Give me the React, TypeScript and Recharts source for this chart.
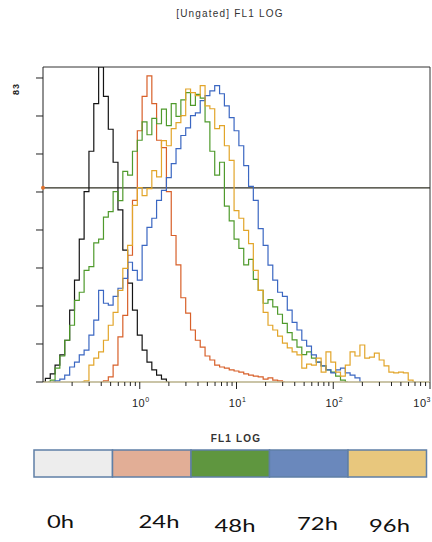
import React from 'react';
import { LineChart, Line, XAxis, YAxis, ReferenceLine, ReferenceDot } from 'recharts';

const _ = null;

// log-spaced FL1 channels (20 per decade)
const FL1_BINS = [
  0.1, 0.112, 0.126, 0.141, 0.158, 0.178, 0.2, 0.224, 0.251, 0.282, 0.316, 0.355, 0.398, 0.447, 0.501, 0.562, 0.631, 0.708, 0.794, 0.891,
  1, 1.12, 1.26, 1.41, 1.58, 1.78, 2, 2.24, 2.51, 2.82, 3.16, 3.55, 3.98, 4.47, 5.01, 5.62, 6.31, 7.08, 7.94, 8.91,
  10, 11.2, 12.6, 14.1, 15.8, 17.8, 20, 22.4, 25.1, 28.2, 31.6, 35.5, 39.8, 44.7, 50.1, 56.2, 63.1, 70.8, 79.4, 89.1,
  100, 112, 126, 141, 158, 178, 200, 224, 251, 282, 316, 355, 398, 447, 501, 562, 631, 708, 794, 891,
  1000,
];

const COUNTS_0H = [
  0, 1, 2.2, 4.6, 7.4, 11.4, 19.6, 27.8, 39, 52,
  63, 76, 86, 78, 69, 60, 47, 36, 27, 19.6,
  12.8, 8.7, 5.4, 3.3, 1.9, 0.8, 0, _, _, _,
  _, _, _, _, _, _, _, _, _, _,
  _, _, _, _, _, _, _, _, _, _,
  _, _, _, _, _, _, _, _, _, _,
  _, _, _, _, _, _, _, _, _, _,
  _, _, _, _, _, _, _, _, _, _,
  _,
];

const COUNTS_24H = [
  _, _, _, _, _, _, _, _, _, _,
  _, _, 0, 0.3, 1.4, 4.6, 12.3, 18.2, 34.6, 49.6,
  68.6, 78, 83.6, 76, 66, 64, 52, 40, 32, 23,
  18.8, 14.2, 11.4, 9.5, 7.1, 6, 4.6, 4.1, 3.8, 3.3,
  3, 2.7, 2.2, 1.9, 1.6, 1.4, 0.8, 1.1, 0.5, 0.3,
  0, _, _, _, _, _, _, _, _, _,
  _, _, _, _, _, _, _, _, _, _,
  _, _, _, _, _, _, _, _, _, _,
  _,
];

const COUNTS_48H = [
  _, 0, 0.5, 3.8, 7.1, 11.4, 15.5, 22.3, 24.5, 30.5,
  31.5, 38, 39, 45, 46.5, 52, 49.5, 57.5, 56.5, 63,
  66, 71, 67.5, 72, 70.5, 74.5, 70, 76, 72.5, 77,
  79, 75.5, 78.5, 77.5, 71, 63, 56.5, 60, 48, 44,
  39, 36.5, 32, 33.5, 28, 25, 21.5, 22.5, 20.5, 18.5,
  16, 13.5, 11.5, 9.5, 7.5, 8.2, 6.5, 5.4, 4.4, 3.3,
  2.7, 1.6, 0.5, 0, _, _, _, _, _, _,
  _, _, _, _, _, _, _, _, _, _,
  _,
];

const COUNTS_72H = [
  _, _, 0, 0.3, 0.8, 1.9, 4.1, 5.4, 7.4, 8.7,
  12.8, 16.9, 25, 21.5, 21, 23.4, 25.6, 28.3, 32.7, 30.5,
  27.8, 37.3, 42.2, 44.7, 49.6, 52.3, 55.8, 59.6, 63.7, 67.3,
  69.4, 72.7, 73.5, 76.8, 78.2, 79.5, 80.9, 78.7, 75.4, 72.2,
  68.6, 64.5, 59.1, 53.4, 49.6, 41.9, 37.3, 31.9, 27.8, 24.5,
  23.4, 19.6, 16.3, 14.2, 11.4, 9.8, 7.4, 5.4, 4.4, 3.3,
  2.5, 3.3, 3.8, 2.5, 1.9, 1.1, 0, _, _, _,
  _, _, _, _, _, _, _, _, _, _,
  _,
];

const COUNTS_96H = [
  _, _, _, _, _, _, _, _, 0, 0.3,
  4.6, 6.5, 8.2, 11.4, 15.5, 19, 25, 31, 37.3, 48.2,
  53.1, 50.9, 52.8, 57.7, 56, 65.9, 64.5, 69.2, 70.8, 72.7,
  80, 79, 78.2, 80.9, 75.4, 74.6, 69.2, 70, 64.5, 60.5,
  46.8, 44.7, 41.4, 37.8, 30.5, 25, 19, 15.5, 14.2, 12.5,
  10.6, 9.3, 8.2, 7.4, 3.8, 4.9, 4.6, 6.5, 2.7, 8.2,
  5.4, 2.7, 1.6, 4.6, 8.2, 7.1, 10.1, 6.5, 6.8, 7.9,
  6, 4.4, 2.7, 2.5, 2.7, 2.5, 0.5, 0, _, _,
  _,
];

const TIMEPOINTS = ['0h', '24h', '48h', '72h', '96h'];
const LINE_COLORS = ['#141414', '#d8602a', '#4f9a2c', '#3b67c2', '#e2a52a'];
const SWATCH_COLORS = ['#ededed', '#e2ae96', '#5f963f', '#6a88bc', '#e8c77d'];

const X_TICKS = [
  0.2, 0.3, 0.4, 0.5, 0.6, 0.7, 0.8, 0.9, 1,
  2, 3, 4, 5, 6, 7, 8, 9, 10,
  20, 30, 40, 50, 60, 70, 80, 90, 100,
  200, 300, 400, 500, 600, 700, 800, 900, 1000,
];
const X_MAJOR = [1, 10, 100, 1000];
const Y_TICKS = [0, 10.375, 20.75, 31.125, 41.5, 51.875, 62.25, 72.625, 83];
const Y_LABELLED = 83;
const Y_MAX = 86;
const GATE_LEVEL = 53;

const SERIES = [COUNTS_0H, COUNTS_24H, COUNTS_48H, COUNTS_72H, COUNTS_96H];

const rows = FL1_BINS.map((x, i) => {
  const r: any = { x };
  SERIES.forEach((s, k) => { r['s' + k] = s[i]; });
  return r;
});

const FONT = '"Liberation Sans", Arial, sans-serif';
// label centres / baselines under the swatch bar (they don't line up with the swatches)
const LABEL_X = [60.5, 159, 235, 317.5, 389.5];
const LABEL_BASE = [528, 528, 532, 530, 532];

const XTick = ({ x, y, payload }: any) => {
  const v = payload.value;
  const major = X_MAJOR.includes(v);
  const last = v === 1000; // keep the last label inside the page
  return (
    <g>
      <line x1={x} x2={x} y1={y} y2={y + (major ? 7 : 4)} stroke="#222" strokeWidth={1} />
      {major && (
        <text x={last ? 431 : x + 1} y={y + 25} textAnchor={last ? 'end' : 'middle'} fontSize={11}
          fontFamily={FONT} fill="#222" letterSpacing={0.5}>
          10<tspan dy={-5} fontSize={7}>{Math.round(Math.log10(v))}</tspan>
        </text>
      )}
    </g>
  );
};

const YTick = ({ x, y, payload }: any) => {
  if (payload.value !== Y_LABELLED) return <g />;
  const tx = x - 15;
  const ty = y + 5;
  return (
    <text x={tx} y={ty} transform={`rotate(-90 ${tx} ${ty})`} textAnchor="end"
      fontSize={9} fontWeight={700} fontFamily={FONT} fill="#222" letterSpacing={1}>
      {payload.value}
    </text>
  );
};

export default function App() {
  return (
    <div style={{ position: 'absolute', left: 0, top: 0, width: 432, height: 542, background: '#fff' }}>
      <LineChart width={432} height={430} data={rows} margin={{ top: 67, right: 2, bottom: 18, left: 0 }}>
        <XAxis dataKey="x" type="number" scale="log" domain={[0.1, 1000]} allowDataOverflow
          ticks={X_TICKS} interval={0} tickLine={false} tickSize={0} tickMargin={0} height={30}
          axisLine={{ stroke: '#b9b08a', strokeWidth: 1.5 }} tick={XTick} />
        <YAxis type="number" domain={[0, Y_MAX]} allowDataOverflow ticks={Y_TICKS} interval={0}
          width={43} tickSize={7} tickMargin={2} tickLine={{ stroke: '#222' }}
          axisLine={{ stroke: '#222' }} tick={YTick} />
        <ReferenceLine y={Y_MAX} stroke="#333" strokeWidth={1} />
        <ReferenceLine x={1000} stroke="#333" strokeWidth={1} />
        <ReferenceLine y={GATE_LEVEL} stroke="#2e2e22" strokeWidth={1.2} />
        {SERIES.map((_s, k) => (
          <Line key={k} dataKey={'s' + k} type="step" stroke={LINE_COLORS[k]} strokeWidth={1.2}
            dot={false} connectNulls={false} isAnimationActive={false} />
        ))}
        <ReferenceDot x={0.1} y={GATE_LEVEL} r={2} fill="#e0702a" stroke="none" />
      </LineChart>

      <svg width={432} height={542} style={{ position: 'absolute', left: 0, top: 0, pointerEvents: 'none' }}>
        <text x={230} y={17} textAnchor="middle" fontSize={10} fontFamily={FONT} fill="#333" letterSpacing={1.2}>
          [Ungated] FL1 LOG
        </text>
        <text x={236} y={442} textAnchor="middle" fontSize={10} fontWeight={700} fontFamily={FONT} fill="#333" letterSpacing={1.2}>
          FL1 LOG
        </text>
        {SWATCH_COLORS.map((c, k) => (
          <rect key={k} x={34 + k * 78.5} y={450} width={78.5} height={27} fill={c} stroke="#5f7fa6" strokeWidth={1.5} />
        ))}
        {TIMEPOINTS.map((t, k) => (
          <text key={t} transform={`translate(${LABEL_X[k]} ${LABEL_BASE[k]}) scale(1.4 1)`} textAnchor="middle"
            fontSize={17} fontFamily="Lato, 'Open Sans', sans-serif" fill="#111">
            {t}
          </text>
        ))}
      </svg>
    </div>
  );
}
